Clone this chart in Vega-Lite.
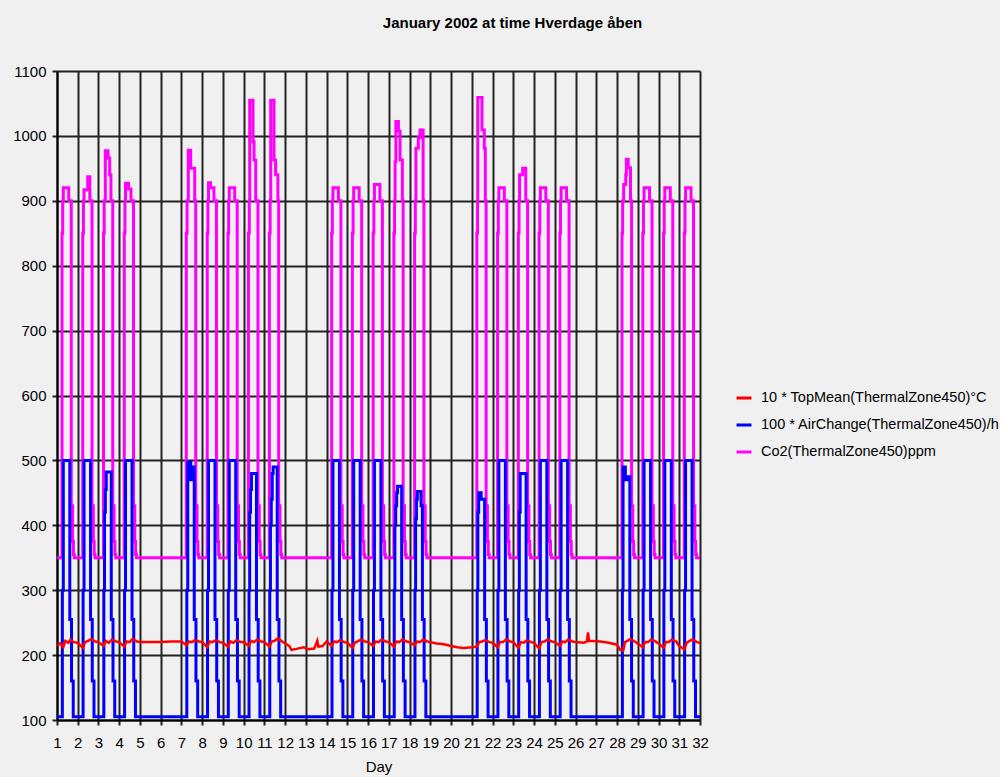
{
"$schema": "https://vega.github.io/schema/vega-lite/v6.json",
"width": 643, "height": 649,
"autosize": {"type": "none"},
"padding": {"left": 57, "top": 71, "right": 300, "bottom": 57},
"background": "#f0f0f0",
"title": {"text": "January 2002 at time Hverdage åben", "font": "Liberation Sans", "fontSize": 15, "fontWeight": "bold", "color": "#000", "frame": "group", "anchor": "middle", "dx": 134, "offset": 33},
"datasets": {
"co2": [
{"t":1,"v":350},
{"t":1.242,"v":850},{"t":1.275,"v":900},{"t":1.304,"v":920},{"t":1.567,"v":900},{"t":1.688,"v":430},{"t":1.75,"v":375},{"t":1.792,"v":355},{"t":1.833,"v":350},
{"t":2.242,"v":850},{"t":2.275,"v":900},{"t":2.304,"v":917},{"t":2.48,"v":937},{"t":2.583,"v":900},{"t":2.688,"v":430},{"t":2.75,"v":375},{"t":2.792,"v":355},{"t":2.833,"v":350},
{"t":3.242,"v":850},{"t":3.275,"v":900},{"t":3.33,"v":977},{"t":3.46,"v":966},{"t":3.54,"v":940},{"t":3.6,"v":900},{"t":3.688,"v":430},{"t":3.75,"v":375},{"t":3.792,"v":355},{"t":3.833,"v":350},
{"t":4.242,"v":850},{"t":4.275,"v":900},{"t":4.304,"v":927},{"t":4.45,"v":918},{"t":4.567,"v":900},{"t":4.688,"v":430},{"t":4.75,"v":375},{"t":4.792,"v":355},{"t":4.833,"v":350},
{"t":7.235,"v":850},{"t":7.27,"v":900},{"t":7.33,"v":978},{"t":7.445,"v":950},{"t":7.64,"v":900},{"t":7.688,"v":430},{"t":7.75,"v":375},{"t":7.792,"v":355},{"t":7.833,"v":350},
{"t":8.242,"v":850},{"t":8.275,"v":900},{"t":8.304,"v":928},{"t":8.4,"v":920},{"t":8.567,"v":900},{"t":8.688,"v":430},{"t":8.75,"v":375},{"t":8.792,"v":355},{"t":8.833,"v":350},
{"t":9.242,"v":850},{"t":9.275,"v":900},{"t":9.304,"v":920},{"t":9.567,"v":900},{"t":9.688,"v":430},{"t":9.75,"v":375},{"t":9.792,"v":355},{"t":9.833,"v":350},
{"t":10.23,"v":850},{"t":10.27,"v":900},{"t":10.292,"v":1055},{"t":10.45,"v":991},{"t":10.5,"v":963},{"t":10.58,"v":900},{"t":10.688,"v":430},{"t":10.75,"v":375},{"t":10.792,"v":355},{"t":10.833,"v":350},
{"t":11.24,"v":850},{"t":11.275,"v":900},{"t":11.304,"v":1055},{"t":11.46,"v":963},{"t":11.54,"v":940},{"t":11.65,"v":900},{"t":11.688,"v":430},{"t":11.75,"v":375},{"t":11.792,"v":355},{"t":11.833,"v":350},
{"t":14.242,"v":850},{"t":14.275,"v":900},{"t":14.304,"v":920},{"t":14.567,"v":900},{"t":14.688,"v":430},{"t":14.75,"v":375},{"t":14.792,"v":355},{"t":14.833,"v":350},
{"t":15.242,"v":850},{"t":15.275,"v":900},{"t":15.304,"v":920},{"t":15.567,"v":900},{"t":15.688,"v":430},{"t":15.75,"v":375},{"t":15.792,"v":355},{"t":15.833,"v":350},
{"t":16.242,"v":850},{"t":16.275,"v":900},{"t":16.304,"v":925},{"t":16.567,"v":900},{"t":16.688,"v":430},{"t":16.75,"v":375},{"t":16.792,"v":355},{"t":16.833,"v":350},
{"t":17.242,"v":850},{"t":17.275,"v":900},{"t":17.3,"v":960},{"t":17.337,"v":1022},{"t":17.46,"v":1007},{"t":17.54,"v":963},{"t":17.65,"v":900},{"t":17.688,"v":430},{"t":17.75,"v":375},{"t":17.792,"v":355},{"t":17.833,"v":350},
{"t":18.242,"v":850},{"t":18.275,"v":900},{"t":18.304,"v":981},{"t":18.42,"v":997},{"t":18.5,"v":1009},{"t":18.65,"v":900},{"t":18.688,"v":430},{"t":18.75,"v":375},{"t":18.792,"v":355},{"t":18.833,"v":350},
{"t":21.242,"v":850},{"t":21.275,"v":900},{"t":21.285,"v":1059},{"t":21.49,"v":1009},{"t":21.6,"v":981},{"t":21.65,"v":900},{"t":21.688,"v":430},{"t":21.75,"v":375},{"t":21.792,"v":355},{"t":21.833,"v":350},
{"t":22.242,"v":850},{"t":22.275,"v":900},{"t":22.304,"v":920},{"t":22.567,"v":900},{"t":22.688,"v":430},{"t":22.75,"v":375},{"t":22.792,"v":355},{"t":22.833,"v":350},
{"t":23.242,"v":850},{"t":23.275,"v":900},{"t":23.3,"v":940},{"t":23.45,"v":950},{"t":23.6,"v":900},{"t":23.688,"v":430},{"t":23.75,"v":375},{"t":23.792,"v":355},{"t":23.833,"v":350},
{"t":24.242,"v":850},{"t":24.275,"v":900},{"t":24.304,"v":920},{"t":24.567,"v":900},{"t":24.688,"v":430},{"t":24.75,"v":375},{"t":24.792,"v":355},{"t":24.833,"v":350},
{"t":25.242,"v":850},{"t":25.275,"v":900},{"t":25.304,"v":920},{"t":25.567,"v":900},{"t":25.688,"v":430},{"t":25.75,"v":375},{"t":25.792,"v":355},{"t":25.833,"v":350},
{"t":28.24,"v":850},{"t":28.27,"v":900},{"t":28.32,"v":925},{"t":28.42,"v":940},{"t":28.45,"v":964},{"t":28.54,"v":951},{"t":28.65,"v":900},{"t":28.7,"v":430},{"t":28.76,"v":375},{"t":28.8,"v":355},{"t":28.84,"v":350},
{"t":29.242,"v":850},{"t":29.275,"v":900},{"t":29.304,"v":920},{"t":29.567,"v":900},{"t":29.688,"v":430},{"t":29.75,"v":375},{"t":29.792,"v":355},{"t":29.833,"v":350},
{"t":30.242,"v":850},{"t":30.275,"v":900},{"t":30.304,"v":920},{"t":30.567,"v":900},{"t":30.688,"v":430},{"t":30.75,"v":375},{"t":30.792,"v":355},{"t":30.833,"v":350},
{"t":31.242,"v":850},{"t":31.275,"v":900},{"t":31.304,"v":920},{"t":31.567,"v":900},{"t":31.688,"v":430},{"t":31.75,"v":375},{"t":31.792,"v":355},{"t":31.833,"v":350},
{"t":32,"v":350}
],
"ac": [
{"t":1,"v":105},
{"t":1.258,"v":300},{"t":1.304,"v":500},{"t":1.617,"v":255},{"t":1.7,"v":160},{"t":1.783,"v":105},
{"t":2.258,"v":300},{"t":2.304,"v":500},{"t":2.617,"v":255},{"t":2.7,"v":160},{"t":2.783,"v":105},
{"t":3.258,"v":300},{"t":3.29,"v":420},{"t":3.33,"v":455},{"t":3.375,"v":482},{"t":3.617,"v":255},{"t":3.7,"v":160},{"t":3.783,"v":105},
{"t":4.258,"v":300},{"t":4.304,"v":500},{"t":4.617,"v":255},{"t":4.7,"v":160},{"t":4.783,"v":105},
{"t":7.258,"v":300},{"t":7.304,"v":497},{"t":7.45,"v":470},{"t":7.52,"v":490},{"t":7.617,"v":255},{"t":7.7,"v":160},{"t":7.783,"v":105},
{"t":8.258,"v":300},{"t":8.304,"v":500},{"t":8.617,"v":255},{"t":8.7,"v":160},{"t":8.783,"v":105},
{"t":9.258,"v":300},{"t":9.304,"v":500},{"t":9.617,"v":255},{"t":9.7,"v":160},{"t":9.783,"v":105},
{"t":10.258,"v":300},{"t":10.29,"v":420},{"t":10.33,"v":455},{"t":10.375,"v":480},{"t":10.617,"v":255},{"t":10.7,"v":160},{"t":10.783,"v":105},
{"t":11.258,"v":300},{"t":11.29,"v":400},{"t":11.33,"v":440},{"t":11.375,"v":480},{"t":11.42,"v":490},{"t":11.617,"v":255},{"t":11.7,"v":160},{"t":11.783,"v":105},
{"t":14.258,"v":300},{"t":14.304,"v":500},{"t":14.617,"v":255},{"t":14.7,"v":160},{"t":14.783,"v":105},
{"t":15.258,"v":300},{"t":15.304,"v":500},{"t":15.617,"v":255},{"t":15.7,"v":160},{"t":15.783,"v":105},
{"t":16.258,"v":300},{"t":16.304,"v":500},{"t":16.617,"v":255},{"t":16.7,"v":160},{"t":16.783,"v":105},
{"t":17.258,"v":300},{"t":17.29,"v":400},{"t":17.33,"v":430},{"t":17.375,"v":450},{"t":17.42,"v":460},{"t":17.617,"v":255},{"t":17.7,"v":160},{"t":17.783,"v":105},
{"t":18.258,"v":300},{"t":18.29,"v":410},{"t":18.33,"v":440},{"t":18.375,"v":452},{"t":18.55,"v":430},{"t":18.617,"v":255},{"t":18.7,"v":160},{"t":18.783,"v":105},
{"t":21.258,"v":300},{"t":21.29,"v":420},{"t":21.33,"v":450},{"t":21.45,"v":440},{"t":21.617,"v":255},{"t":21.7,"v":160},{"t":21.783,"v":105},
{"t":22.258,"v":300},{"t":22.304,"v":500},{"t":22.617,"v":255},{"t":22.7,"v":160},{"t":22.783,"v":105},
{"t":23.258,"v":300},{"t":23.29,"v":420},{"t":23.33,"v":480},{"t":23.617,"v":255},{"t":23.7,"v":160},{"t":23.783,"v":105},
{"t":24.258,"v":300},{"t":24.304,"v":500},{"t":24.617,"v":255},{"t":24.7,"v":160},{"t":24.783,"v":105},
{"t":25.258,"v":300},{"t":25.304,"v":500},{"t":25.617,"v":255},{"t":25.7,"v":160},{"t":25.783,"v":105},
{"t":28.258,"v":300},{"t":28.29,"v":490},{"t":28.4,"v":470},{"t":28.5,"v":475},{"t":28.617,"v":255},{"t":28.7,"v":160},{"t":28.783,"v":105},
{"t":29.258,"v":300},{"t":29.304,"v":500},{"t":29.617,"v":255},{"t":29.7,"v":160},{"t":29.783,"v":105},
{"t":30.258,"v":300},{"t":30.304,"v":500},{"t":30.617,"v":255},{"t":30.7,"v":160},{"t":30.783,"v":105},
{"t":31.258,"v":300},{"t":31.304,"v":500},{"t":31.617,"v":255},{"t":31.7,"v":160},{"t":31.783,"v":105},
{"t":32,"v":105}
],
"tm": [
{"t":1.0,"v":215},{"t":1.15,"v":218},{"t":1.3,"v":212},{"t":1.4,"v":222},{"t":1.55,"v":219},{"t":1.65,"v":224},{"t":1.8,"v":220},
{"t":2.0,"v":219},{"t":2.25,"v":211},{"t":2.35,"v":220},{"t":2.5,"v":222},{"t":2.65,"v":225},{"t":2.85,"v":221},
{"t":3.0,"v":220},{"t":3.25,"v":214},{"t":3.35,"v":222},{"t":3.5,"v":219},{"t":3.65,"v":224},{"t":3.85,"v":221},
{"t":4.0,"v":220},{"t":4.25,"v":213},{"t":4.35,"v":221},{"t":4.5,"v":220},{"t":4.65,"v":225},{"t":4.85,"v":221},
{"t":5.0,"v":220},{"t":5.5,"v":220},{"t":6.0,"v":220},{"t":6.5,"v":221},{"t":7.0,"v":221},
{"t":7.25,"v":215},{"t":7.35,"v":221},{"t":7.5,"v":220},{"t":7.65,"v":223},{"t":7.85,"v":221},
{"t":8.0,"v":220},{"t":8.25,"v":212},{"t":8.35,"v":221},{"t":8.5,"v":220},{"t":8.65,"v":223},{"t":8.85,"v":220},
{"t":9.0,"v":219},{"t":9.25,"v":213},{"t":9.35,"v":221},{"t":9.5,"v":219},{"t":9.65,"v":223},{"t":9.85,"v":220},
{"t":10.0,"v":220},{"t":10.25,"v":214},{"t":10.35,"v":222},{"t":10.5,"v":220},{"t":10.65,"v":224},{"t":10.85,"v":221},
{"t":11.0,"v":220},{"t":11.25,"v":213},{"t":11.35,"v":221},{"t":11.5,"v":222},{"t":11.65,"v":226},{"t":11.85,"v":221},
{"t":12.0,"v":218},{"t":12.2,"v":214},{"t":12.3,"v":208},{"t":12.6,"v":210},{"t":12.9,"v":212},{"t":13.1,"v":209},{"t":13.4,"v":210},{"t":13.55,"v":222},{"t":13.6,"v":213},{"t":13.8,"v":214},{"t":14.0,"v":221},
{"t":14.25,"v":214},{"t":14.35,"v":221},{"t":14.5,"v":220},{"t":14.65,"v":223},{"t":14.85,"v":220},
{"t":15.0,"v":219},{"t":15.25,"v":211},{"t":15.35,"v":219},{"t":15.5,"v":221},{"t":15.65,"v":224},{"t":15.85,"v":221},
{"t":16.0,"v":220},{"t":16.25,"v":214},{"t":16.35,"v":221},{"t":16.5,"v":220},{"t":16.65,"v":224},{"t":16.85,"v":221},
{"t":17.0,"v":220},{"t":17.25,"v":213},{"t":17.35,"v":221},{"t":17.5,"v":220},{"t":17.65,"v":224},{"t":17.85,"v":221},
{"t":18.0,"v":220},{"t":18.25,"v":215},{"t":18.35,"v":221},{"t":18.5,"v":220},{"t":18.65,"v":224},{"t":18.85,"v":221},
{"t":19.0,"v":220},{"t":19.3,"v":218},{"t":19.6,"v":217},{"t":20.0,"v":214},{"t":20.3,"v":212},{"t":20.6,"v":211},{"t":21.0,"v":212},
{"t":21.25,"v":213},{"t":21.35,"v":220},{"t":21.5,"v":221},{"t":21.65,"v":223},{"t":21.85,"v":220},
{"t":22.0,"v":219},{"t":22.25,"v":212},{"t":22.35,"v":220},{"t":22.5,"v":220},{"t":22.65,"v":224},{"t":22.85,"v":221},
{"t":23.0,"v":220},{"t":23.25,"v":211},{"t":23.35,"v":220},{"t":23.5,"v":219},{"t":23.65,"v":223},{"t":23.85,"v":220},
{"t":24.0,"v":219},{"t":24.25,"v":210},{"t":24.35,"v":220},{"t":24.5,"v":221},{"t":24.65,"v":224},{"t":24.85,"v":221},
{"t":25.0,"v":220},{"t":25.25,"v":214},{"t":25.35,"v":221},{"t":25.5,"v":220},{"t":25.65,"v":224},{"t":25.85,"v":221},
{"t":26.0,"v":220},{"t":26.4,"v":219},{"t":26.55,"v":221},{"t":26.6,"v":235},{"t":26.65,"v":222},{"t":27.2,"v":221},{"t":27.6,"v":219},{"t":28.0,"v":216},
{"t":28.15,"v":208},{"t":28.3,"v":207},{"t":28.38,"v":220},{"t":28.5,"v":222},{"t":28.65,"v":225},{"t":28.85,"v":221},
{"t":29.0,"v":218},{"t":29.25,"v":212},{"t":29.35,"v":220},{"t":29.5,"v":220},{"t":29.65,"v":224},{"t":29.85,"v":221},
{"t":30.0,"v":218},{"t":30.25,"v":211},{"t":30.35,"v":220},{"t":30.5,"v":220},{"t":30.65,"v":224},{"t":30.85,"v":221},
{"t":31.0,"v":214},{"t":31.25,"v":209},{"t":31.35,"v":219},{"t":31.5,"v":222},{"t":31.65,"v":224},{"t":31.85,"v":220},{"t":32.0,"v":219}
]
},
"encoding": {
"x": {"field": "t", "type": "quantitative", "scale": {"domain": [1, 32], "nice": false, "zero": false},
 "axis": {"values": [1,2,3,4,5,6,7,8,9,10,11,12,13,14,15,16,17,18,19,20,21,22,23,24,25,26,27,28,29,30,31,32], "format": "d", "title": "Day", "labelFlush": false, "labelOverlap": false}},
"y": {"field": "v", "type": "quantitative", "scale": {"domain": [100, 1100], "nice": false, "zero": false},
 "axis": {"values": [100,200,300,400,500,600,700,800,900,1000,1100], "format": "d", "title": null}}
},
"layer": [
{"data": {"name": "co2"}, "mark": {"type": "line", "interpolate": "step-after", "strokeWidth": 3, "strokeJoin": "miter"},
 "encoding": {"color": {"datum": "Co2(ThermalZone450)ppm"}}},
{"data": {"name": "ac"}, "mark": {"type": "line", "interpolate": "step-after", "strokeWidth": 3, "strokeJoin": "miter"},
 "encoding": {"color": {"datum": "100 * AirChange(ThermalZone450)/h"}}},
{"data": {"name": "tm"}, "mark": {"type": "line", "interpolate": "linear", "strokeWidth": 2.5},
 "encoding": {"color": {"datum": "10 * TopMean(ThermalZone450)°C",
  "scale": {"domain": ["10 * TopMean(ThermalZone450)°C", "100 * AirChange(ThermalZone450)/h", "Co2(ThermalZone450)ppm"], "range": ["#ff0000", "#0000ff", "#ff00ff"]},
  "legend": {"title": null, "orient": "none", "legendX": 678, "legendY": 318, "symbolType": "stroke", "symbolSize": 225, "symbolStrokeWidth": 3, "labelFont": "Liberation Sans", "labelFontSize": 14.5, "labelColor": "#000", "labelOffset": 8, "rowPadding": 11, "padding": 0, "labelLimit": 0}}}}
],
"config": {
"view": {"stroke": null},
"axis": {"grid": true, "gridColor": "#222", "gridWidth": 2, "gridOpacity": 1, "domain": true, "domainColor": "#000", "domainWidth": 2, "ticks": true, "tickColor": "#222", "tickSize": 5, "tickWidth": 2, "labelFont": "Liberation Sans", "labelFontSize": 15, "labelColor": "#000", "titleFont": "Liberation Sans", "titleFontSize": 15, "titleFontWeight": "normal", "titleColor": "#000"},
"axisX": {"labelPadding": 10, "titlePadding": 9},
"axisY": {"labelPadding": 6}
}
}
